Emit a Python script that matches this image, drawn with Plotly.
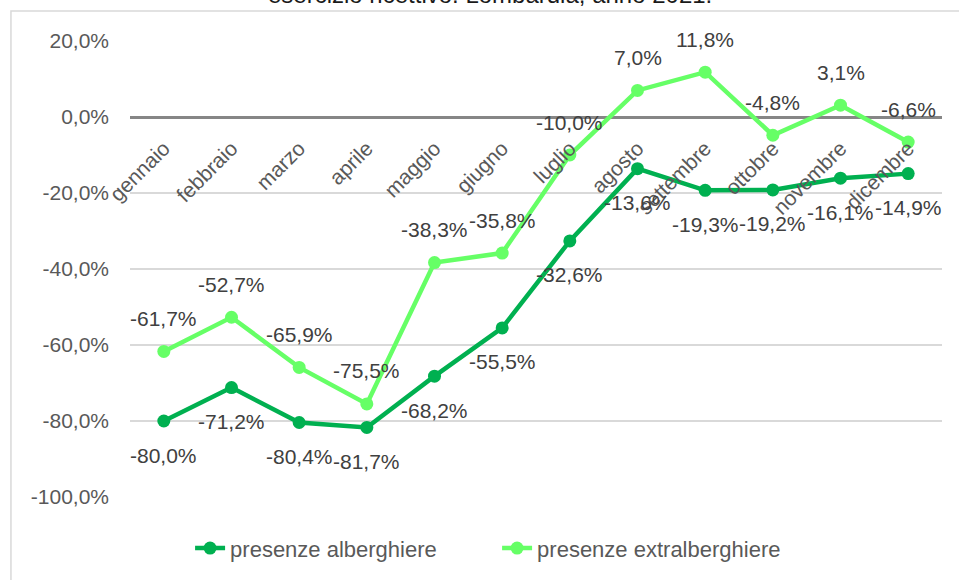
import plotly.graph_objects as go

# Months (x categories)
mesi = ["gennaio", "febbraio", "marzo", "aprile", "maggio", "giugno",
        "luglio", "agosto", "settembre", "ottobre", "novembre", "dicembre"]

# Variazione % presenze
alberghiere = [-80.0, -71.2, -80.4, -81.7, -68.2, -55.5,
               -32.6, -13.6, -19.3, -19.2, -16.1, -14.9]
extralberghiere = [-61.7, -52.7, -65.9, -75.5, -38.3, -35.8,
                   -10.0, 7.0, 11.8, -4.8, 3.1, -6.6]

# y-axis ticks
y_tickvals = [-100, -80, -60, -40, -20, 0, 20]
y_ticktext = ["-100,0%", "-80,0%", "-60,0%", "-40,0%", "-20,0%", "0,0%", "20,0%"]

TITLE = "esercizio ricettivo. Lombardia, anno 2021."

DARK_GREEN = "#00B050"
LIGHT_GREEN = "#66FF66"
LABEL_COLOR = "#404040"
AXIS_COLOR = "#595959"
FONT = "Liberation Sans, Arial, sans-serif"


def fmt(v):
    return f"{v:.1f}%".replace(".", ",")


fig = go.Figure()

fig.add_trace(go.Scatter(
    x=mesi, y=alberghiere,
    mode="lines+markers",
    name="presenze alberghiere",
    line=dict(color=DARK_GREEN, width=4.5),
    marker=dict(size=13, color=DARK_GREEN),
))

fig.add_trace(go.Scatter(
    x=mesi, y=extralberghiere,
    mode="lines+markers",
    name="presenze extralberghiere",
    line=dict(color=LIGHT_GREEN, width=4.5),
    marker=dict(size=13, color=LIGHT_GREEN),
))

# data labels: hotel below, non-hotel above
annotations = []
for m, v in zip(mesi, alberghiere):
    annotations.append(dict(x=m, y=v, text=fmt(v), showarrow=False, yshift=-34,
                            font=dict(size=21, color=LABEL_COLOR, family=FONT)))
for m, v in zip(mesi, extralberghiere):
    annotations.append(dict(x=m, y=v, text=fmt(v), showarrow=False, yshift=33,
                            font=dict(size=21, color=LABEL_COLOR, family=FONT)))

# title (first line cut off in the original)
annotations.append(dict(
    text=TITLE, xref="paper", yref="paper", x=0.443, y=1.067,
    xanchor="center", yanchor="bottom", showarrow=False,
    font=dict(size=24, color="#1a1a1a", family=FONT),
))

fig.update_layout(
    width=959, height=580,
    margin=dict(l=130, r=17, t=41, b=82),
    paper_bgcolor="white",
    plot_bgcolor="white",
    font=dict(family=FONT, size=21, color=AXIS_COLOR),
    xaxis=dict(
        type="category",
        range=[-0.5, 11.5],
        anchor="free",
        position=100 / 120,
        showgrid=False,
        showline=False,
        zeroline=False,
        automargin=False,
        tickangle=-45,
        ticklabelstandoff=14,
        tickfont=dict(size=21, color=AXIS_COLOR),
    ),
    yaxis=dict(
        range=[-100, 20],
        domain=[0, 1],
        tickvals=y_tickvals,
        ticktext=y_ticktext,
        showgrid=True,
        gridcolor="#d9d9d9",
        gridwidth=1.5,
        zeroline=True,
        zerolinecolor="#868686",
        zerolinewidth=2.5,
        automargin=False,
        ticklabelstandoff=20,
        tickfont=dict(size=21, color=AXIS_COLOR),
    ),
    legend=dict(
        orientation="h",
        x=0.074, y=-0.11,
        xanchor="left", yanchor="middle",
        entrywidth=262,
        font=dict(size=22, color=AXIS_COLOR),
        bgcolor="rgba(0,0,0,0)",
    ),
    annotations=annotations,
    shapes=[dict(
        type="rect", xref="paper", yref="paper",
        x0=-0.1466, x1=1.2, y0=-0.4, y1=1.0657,
        line=dict(color="#d9d9d9", width=1.5),
        fillcolor="rgba(0,0,0,0)",
        layer="below",
    )],
)

# drop the default body margin so the figure sits at the page corner
fig.write_html("out.html", config={"displayModeBar": False},
               post_script="document.body.style.margin='0';")
